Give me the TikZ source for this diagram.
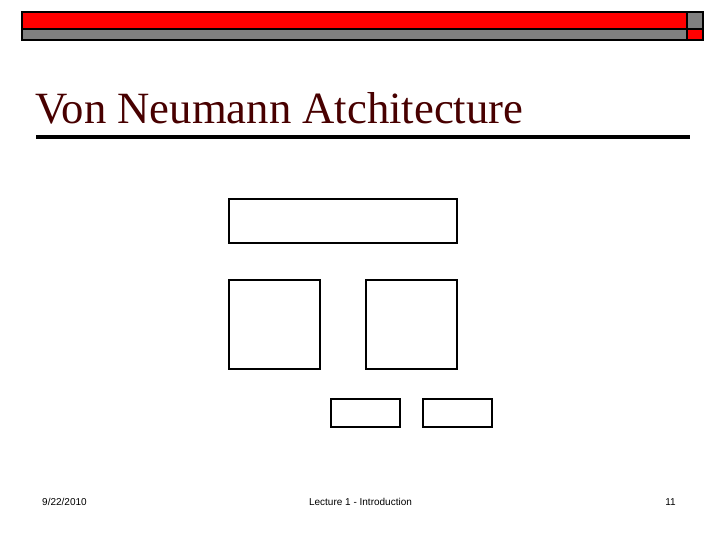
\documentclass[tikz,border=0pt]{standalone}
\usepackage{fontspec}
\setmainfont{Liberation Serif}
\newfontfamily\footfont{Liberation Sans}
\definecolor{titlered}{RGB}{72,0,0}
\definecolor{bargray}{RGB}{128,128,128}
\begin{document}
\begin{tikzpicture}[x=1pt,y=-1pt,
  barcell/.style={draw=black,line width=1.2pt},
  blockbox/.style={draw=black,line width=2.2pt,fill=white},
  foottext/.style={font=\footfont\fontsize{10}{12}\selectfont,inner sep=0pt}]
\useasboundingbox[fill=white] (0,0) rectangle (720,540);
% top decoration bar
\path[barcell,fill=red] (22,12) rectangle (687,29);
\path[barcell,fill=bargray] (687,12) rectangle (703,29);
\path[barcell,fill=bargray] (22,29) rectangle (687,40);
\path[barcell,fill=red] (687,29) rectangle (703,40);
% title
\node[anchor=base west,inner sep=0pt,text=titlered,font=\fontsize{44.7}{48}\selectfont] (title) at (35,124) {Von Neumann Atchitecture};
\draw[line width=4pt] (36,137) -- (690,137);
% blocks
\draw[blockbox] (229,199) rectangle (457,243);
\draw[blockbox] (229,280) rectangle (320,369);
\draw[blockbox] (366,280) rectangle (457,369);
\draw[blockbox] (331,399) rectangle (400,427);
\draw[blockbox] (423,399) rectangle (492,427);
% footer
\node[foottext,anchor=base west] (date) at (42,505) {9/22/2010};
\node[foottext,anchor=base] (lect) at (360.5,505) {Lecture 1 - Introduction};
\node[foottext,anchor=base east] (page) at (676,505) {11};
\end{tikzpicture}
\end{document}
